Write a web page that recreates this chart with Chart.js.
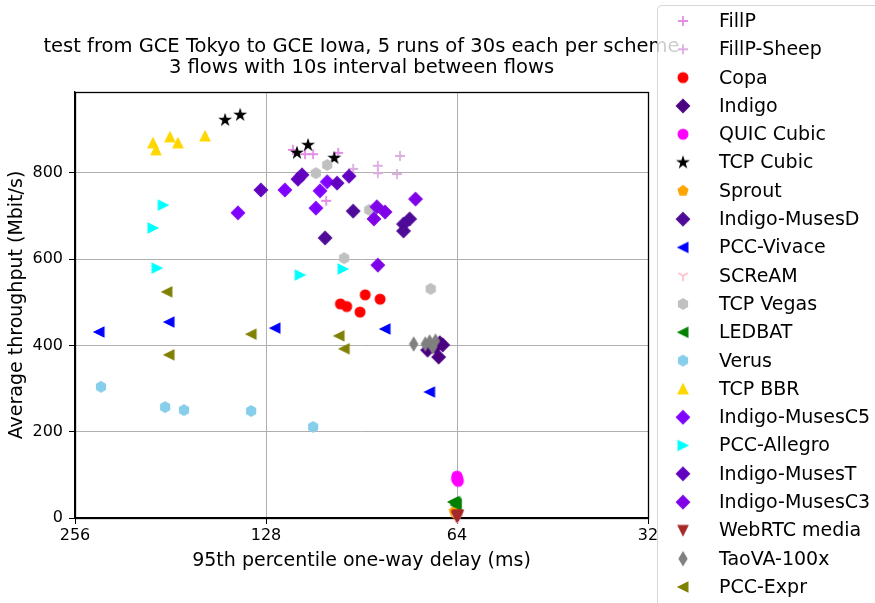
<!DOCTYPE html>
<html><head><meta charset="utf-8">
<script src="https://cdn.jsdelivr.net/npm/chart.js@4/dist/chart.umd.min.js"></script>
<style>html,body{margin:0;padding:0;background:#fff;}</style>
</head><body>
<canvas id="c" width="875" height="603"></canvas>
<script>
// ---------- data ----------
const schemes = ['FillP','FillP-Sheep','Copa','Indigo','QUIC Cubic','TCP Cubic','Sprout','Indigo-MusesD','PCC-Vivace','SCReAM','TCP Vegas','LEDBAT','Verus','TCP BBR','Indigo-MusesC5','PCC-Allegro','Indigo-MusesT','Indigo-MusesC3','WebRTC media','TaoVA-100x','PCC-Expr'];
const titleLines = ['test from GCE Tokyo to GCE Iowa, 5 runs of 30s each per scheme', '3 flows with 10s interval between flows'];
const xTicks = [32, 64, 128, 256];
const yTicks = [0, 200, 400, 600, 800];

const delayFillP = [116.1, 111.1, 107.9, 98.5, 102.9];
const tputFillP  = [853, 843, 843, 846, 735];
const delayFillPSheep = [93.3, 85.3, 85.3, 78.7, 79.6];
const tputFillPSheep  = [809, 816, 799, 839, 797];
const delayCopa = [97.7, 95.5, 89.3, 84.6, 91.0];
const tputCopa  = [496, 490, 517, 507, 477];
const delayIndigo = [67.4, 68.4, 71.2, 69.2, 68.1];
const tputIndigo  = [401, 373, 389, 396, 406];
const delayQuic = [63.9, 63.7, 64.0, 63.8, 64.1];
const tputQuic  = [93, 85, 97, 88, 90];
const delayCubic = [148.5, 140.6, 114.4, 109.9, 99.9];
const tputCubic  = [922, 934, 846, 864, 834];
const delaySprout = [64.6, 64.3, 64.0, 64.4, 64.2];
const tputSprout  = [16, 13, 10, 12, 14];
const delayMusesD = [93.3, 103.3, 77.7, 76.0, 77.7];
const tputMusesD  = [711, 649, 681, 693, 665];
const delayVivace = [234.6, 182.0, 123.9, 83.1, 70.7];
const tputVivace  = [431, 454, 440, 438, 292];
const delayScream = [63.9, 64.0, 63.8, 64.1, 63.9];
const tputScream  = [2, 3, 1, 2, 1];
const delayVegas = [106.8, 102.5, 88.0, 96.4, 70.4];
const tputVegas  = [799, 818, 714, 602, 531];
const delayLedbat = [64.9, 64.4, 64.2, 64.6, 64.3];
const tputLedbat  = [37, 36, 33, 38, 30];
const delayVerus = [233.0, 184.6, 172.4, 135.1, 107.9];
const tputVerus  = [304, 257, 250, 248, 211];
const delayBbr = [192.9, 190.8, 181.4, 176.2, 159.7];
const tputBbr  = [869, 853, 883, 869, 885];
const delayMusesC5 = [141.7, 119.5, 106.8, 105.2, 102.5];
const tputMusesC5  = [707, 760, 718, 758, 779];
const delayAllegro = [185.9, 192.9, 190.1, 113.1, 96.8];
const tputAllegro  = [725, 672, 579, 563, 577];
const delayMusesT = [114.0, 112.3, 98.9, 94.7, 130.4];
const tputMusesT  = [785, 795, 776, 792, 760];
const delayMusesC3 = [86.5, 74.4, 85.3, 85.6, 83.1];
const tputMusesC3  = [693, 739, 586, 721, 709];
const delayWebrtc = [63.8, 64.0, 63.9, 63.7, 64.1];
const tputWebrtc  = [7, 5, 4, 6, 3];
const delayTaova = [74.9, 71.8, 70.7, 69.2, 69.9];
const tputTaova  = [403, 403, 408, 410, 396];
const delayExpr = [183.4, 182.0, 135.1, 98.2, 96.4];
const tputExpr  = [524, 378, 426, 422, 392];

const delays = [delayFillP, delayFillPSheep, delayCopa, delayIndigo, delayQuic, delayCubic, delaySprout, delayMusesD, delayVivace, delayScream, delayVegas, delayLedbat, delayVerus, delayBbr, delayMusesC5, delayAllegro, delayMusesT, delayMusesC3, delayWebrtc, delayTaova, delayExpr];
const tputs = [tputFillP, tputFillPSheep, tputCopa, tputIndigo, tputQuic, tputCubic, tputSprout, tputMusesD, tputVivace, tputScream, tputVegas, tputLedbat, tputVerus, tputBbr, tputMusesC5, tputAllegro, tputMusesT, tputMusesC3, tputWebrtc, tputTaova, tputExpr];

// ---------- styles ----------
const colors = ['#e28ee6','#dcaedf','#ff0000','#4b0082','#ff00ff','#000000','#ffa500','#4f0a98','#0000ff','#ffc0cb','#c0c0c0','#008000','#87ceeb','#ffd700','#8000ff','#00ffff','#6200c0','#7f00e8','#a52a2a','#808080','#808000'];
const shapes = ['plus','plus','circle','diamond','circle','star','pentagon','diamond','triLeft','tri_down','hexagon','triLeft','hexagon','triUp','diamond','triRight','diamond','diamond','triDown','thindiamond','triLeft'];

function makeMarker(shape, color) {
  const s = 20;
  const c = document.createElement('canvas');
  c.width = s; c.height = s;
  const g = c.getContext('2d');
  g.translate(s / 2, s / 2);
  g.fillStyle = color; g.strokeStyle = color; g.lineWidth = 1.2; g.lineJoin = 'miter';
  g.beginPath();
  const poly = (pts) => { g.moveTo(pts[0][0], pts[0][1]); for (let i = 1; i < pts.length; i++) g.lineTo(pts[i][0], pts[i][1]); g.closePath(); };
  const h = 4.9;
  if (shape === 'circle') { g.arc(0, 0, 4.9, 0, Math.PI * 2); }
  else if (shape === 'diamond') { const r = 6.6; poly([[0,-r],[r,0],[0,r],[-r,0]]); }
  else if (shape === 'thindiamond') { const r = 6.6; poly([[0,-r],[r*0.6,0],[0,r],[-r*0.6,0]]); }
  else if (shape === 'triUp') poly([[0,-h],[h,h],[-h,h]]);
  else if (shape === 'triDown') poly([[0,h],[h,-h],[-h,-h]]);
  else if (shape === 'triLeft') poly([[-h,0],[h,-h],[h,h]]);
  else if (shape === 'triRight') poly([[h,0],[-h,-h],[-h,h]]);
  else if (shape === 'pentagon' || shape === 'hexagon') {
    const n = shape === 'pentagon' ? 5 : 6; const r = 5.2; const pts = [];
    for (let i = 0; i < n; i++) { const a = -Math.PI / 2 + i * 2 * Math.PI / n; pts.push([r * Math.cos(a), r * Math.sin(a)]); }
    poly(pts);
  } else if (shape === 'star') {
    const R = 5.4, r = R * 0.381966, pts = [];
    for (let i = 0; i < 10; i++) { const a = -Math.PI / 2 + i * Math.PI / 5; const rr = i % 2 ? r : R; pts.push([rr * Math.cos(a), rr * Math.sin(a)]); }
    poly(pts);
  }
  if (shape === 'plus') {
    g.lineWidth = 1.8; const r = 5;
    g.moveTo(-r, 0); g.lineTo(r, 0); g.moveTo(0, -r); g.lineTo(0, r); g.stroke();
  } else if (shape === 'tri_down') {
    g.lineWidth = 1.8; const r = 5.5;
    g.moveTo(0, 0); g.lineTo(0, r); g.moveTo(0, 0); g.lineTo(r * 0.866, -r * 0.5); g.moveTo(0, 0); g.lineTo(-r * 0.866, -r * 0.5); g.stroke();
  } else { g.fill(); g.stroke(); }
  return c;
}
const markers = shapes.map((s, i) => makeMarker(s, colors[i]));

const N = schemes.length;
const datasets = schemes.map((name, i) => ({
  label: name,
  data: delays[i].map((d, k) => ({ x: d, y: tputs[i][k] })),
  pointStyle: markers[i],
  pointRadius: 6,
  pointHoverRadius: 6,
  backgroundColor: colors[i],
  borderColor: colors[i],
  showLine: false,
  clip: false,
  order: N - i
}));

const FONT = 'DejaVu Sans';
Chart.defaults.color = '#000';
Chart.defaults.font.family = FONT;

const framePlugin = {
  id: 'frame',
  beforeDatasetsDraw(chart) {
    const { ctx, chartArea: a } = chart;
    ctx.save();
    ctx.strokeStyle = '#000'; ctx.lineWidth = 1.3;
    ctx.strokeRect(Math.round(a.left) + 0.5, Math.round(a.top) + 0.5, Math.round(a.right - a.left), Math.round(a.bottom - a.top));
    ctx.restore();
  }
};

const titlePlugin = {
  id: 'plotTitle',
  beforeDraw(chart) {
    const { ctx, chartArea: a } = chart;
    ctx.save();
    ctx.font = '19.5px "' + FONT + '"'; ctx.fillStyle = '#000';
    ctx.textAlign = 'center'; ctx.textBaseline = 'middle';
    const cx = (a.left + a.right) / 2;
    titleLines.forEach((t, i) => ctx.fillText(t, cx, 47 + 21 * i));
    ctx.restore();
  }
};

const legendPlugin = {
  id: 'sideLegend',
  afterDraw(chart) {
    const ctx = chart.ctx;
    ctx.save();
    const x0 = 657.5, y0 = 5.5, w = 260, hgt = 640, rad = 4;
    ctx.beginPath();
    ctx.moveTo(x0 + rad, y0); ctx.lineTo(x0 + w, y0); ctx.lineTo(x0 + w, y0 + hgt); ctx.lineTo(x0, y0 + hgt); ctx.lineTo(x0, y0 + rad);
    ctx.quadraticCurveTo(x0, y0, x0 + rad, y0); ctx.closePath();
    ctx.fillStyle = 'rgba(255,255,255,0.8)'; ctx.fill();
    ctx.strokeStyle = 'rgba(204,204,204,0.8)'; ctx.lineWidth = 1; ctx.stroke();
    ctx.font = '19px "' + FONT + '"'; ctx.fillStyle = '#000'; ctx.textBaseline = 'middle'; ctx.textAlign = 'left';
    chart.data.datasets.forEach((ds, i) => {
      const y = 21 + 28.3 * i;
      const m = ds.pointStyle;
      ctx.drawImage(m, 683 - m.width / 2, y - m.height / 2);
      ctx.fillText(ds.label, 719, y + 1);
    });
    ctx.restore();
  }
};

new Chart(document.getElementById('c'), {
  type: 'scatter',
  data: { datasets },
  options: {
    responsive: false,
    animation: false,
    devicePixelRatio: 1,
    layout: { padding: { left: 0, top: 92, right: 227, bottom: 0 } },
    plugins: {
      legend: { display: false },
      tooltip: { enabled: false },
      title: { display: false }
    },
    scales: {
      x: {
        type: 'logarithmic',
        reverse: true,
        min: 32, max: 256,
        afterBuildTicks: (axis) => { axis.ticks = xTicks.map(v => ({ value: v })); },
        afterFit: (scale) => { scale.height = 85; },
        ticks: { autoSkip: false, maxRotation: 0, padding: 2, font: { size: 16, family: FONT }, color: '#000', callback: (v) => String(v) },
        grid: { color: '#b0b0b0', lineWidth: 1, tickColor: '#000', tickLength: 6, drawTicks: true },
        border: { color: '#000', width: 1.3 },
        title: { display: true, text: '95th percentile one-way delay (ms)', font: { size: 19, family: FONT }, color: '#000', padding: { top: 0, bottom: 30.6 } }
      },
      y: {
        min: 0, max: 987,
        afterBuildTicks: (axis) => { axis.ticks = yTicks.map(v => ({ value: v })); },
        afterFit: (scale) => { scale.width = 75; },
        ticks: { padding: 6, font: { size: 16, family: FONT }, color: '#000', callback: (v) => String(v) },
        grid: { color: '#b0b0b0', lineWidth: 1, tickColor: '#000', tickLength: 6, drawTicks: true },
        border: { color: '#000', width: 1.3 },
        title: { display: true, text: 'Average throughput (Mbit/s)', font: { size: 19, family: FONT }, color: '#000', padding: { top: 5.6, bottom: 0 } }
      }
    }
  },
  plugins: [titlePlugin, framePlugin, legendPlugin]
});
</script>
</body></html>
